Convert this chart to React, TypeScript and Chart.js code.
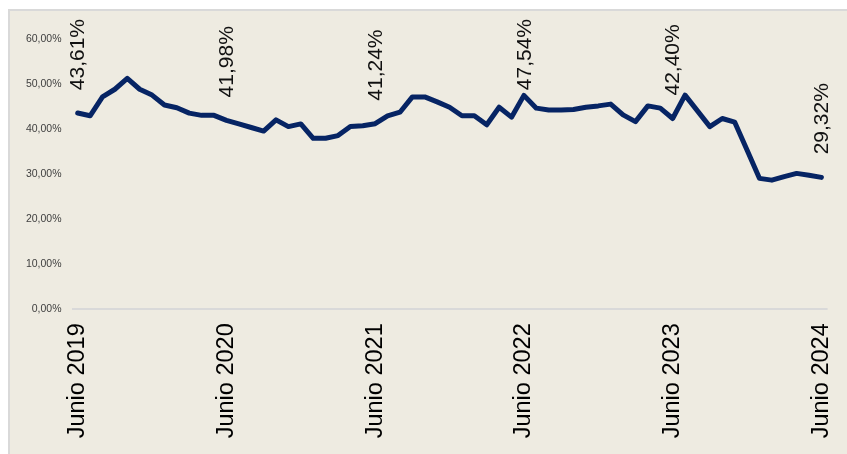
import React, { useEffect, useRef } from "react";
import { Chart, registerables } from "chart.js";

Chart.register(...registerables);

const monthNames = [
  "Enero", "Febrero", "Marzo", "Abril", "Mayo", "Junio",
  "Julio", "Agosto", "Septiembre", "Octubre", "Noviembre", "Diciembre",
];

// Monthly categories, June 2019 to June 2024
const categories: string[] = [];
for (let y = 2019; y <= 2024; y++) {
  for (let m = 0; m < 12; m++) {
    if ((y === 2019 && m < 5) || (y === 2024 && m > 5)) continue;
    categories.push(`${monthNames[m]} ${y}`);
  }
}

const values2019 = [43.61, 43.0, 47.2, 48.9, 51.3, 48.9, 47.6];
const values2020 = [45.4, 44.8, 43.6, 43.1, 43.1, 41.98, 41.2, 40.4, 39.6, 42.1, 40.6, 41.2];
const values2021 = [38.0, 38.0, 38.6, 40.6, 40.8, 41.24, 43.0, 43.8, 47.2, 47.2, 46.1, 44.9];
const values2022 = [43.0, 43.0, 41.0, 44.9, 42.7, 47.54, 44.7, 44.3, 44.3, 44.4, 44.9, 45.2];
const values2023 = [45.6, 43.2, 41.7, 45.2, 44.7, 42.4, 47.6, 44.1, 40.6, 42.4, 41.6, 35.4];
const values2024 = [29.1, 28.7, 29.5, 30.2, 29.8, 29.32];

const values = [
  ...values2019, ...values2020, ...values2021,
  ...values2022, ...values2023, ...values2024,
];

const labeledIndices = [0, 12, 24, 36, 48, 60];

const yMin = 0;
const yMax = 60;
const yStep = 10;

const FONT = '"Liberation Sans", Arial, sans-serif';

const fmtPct = (v: number) => v.toFixed(2).replace(".", ",") + "%";

const dataLabelPlugin = {
  id: "rotatedDataLabels",
  afterDatasetsDraw(chart: any) {
    const meta = chart.getDatasetMeta(0);
    const ctx = chart.ctx;
    ctx.save();
    ctx.font = `21px ${FONT}`;
    ctx.fillStyle = "#111111";
    ctx.textAlign = "left";
    ctx.textBaseline = "middle";
    labeledIndices.forEach((i) => {
      const el = meta.data[i];
      if (!el) return;
      const text = fmtPct(values[i]);
      const w = ctx.measureText(text).width;
      let bottom = el.y - 23;
      if (bottom - w < 8) bottom = 8 + w;
      ctx.save();
      ctx.translate(el.x + 1, bottom);
      ctx.rotate(-Math.PI / 2);
      ctx.fillText(text, 0, 0);
      ctx.restore();
    });
    ctx.restore();
  },
};

export default function App() {
  const canvasRef = useRef<HTMLCanvasElement | null>(null);

  useEffect(() => {
    if (!canvasRef.current) return;
    const chart = new Chart(canvasRef.current, {
      type: "line",
      data: {
        labels: categories,
        datasets: [
          {
            data: values,
            borderColor: "#062464",
            borderWidth: 5,
            pointRadius: 0,
            pointHoverRadius: 0,
            tension: 0,
            fill: false,
            borderCapStyle: "round",
            borderJoinStyle: "round",
          },
        ],
      },
      options: {
        responsive: false,
        animation: false,
        devicePixelRatio: 1,
        layout: { padding: { left: 0, right: 19.4, top: 28.3, bottom: 0 } },
        plugins: {
          legend: { display: false },
          tooltip: { enabled: false },
        },
        scales: {
          x: {
            type: "category",
            offset: true,
            grid: { display: false, drawTicks: false },
            border: { display: false },
            afterFit: (scale: any) => {
              scale.height = 144.7;
              scale.paddingLeft = 0;
              scale.paddingRight = 0;
            },
            ticks: {
              autoSkip: false,
              minRotation: 90,
              maxRotation: 90,
              padding: 14,
              color: "#000000",
              font: { family: FONT, size: 23.5 },
              callback: (_v: any, idx: number) =>
                idx % 12 === 0 ? categories[idx] : "",
            },
          },
          y: {
            min: yMin,
            max: yMax,
            afterFit: (scale: any) => {
              scale.width = 61.5;
            },
            grid: {
              drawTicks: false,
              lineWidth: 2,
              color: (c: any) =>
                c.tick && c.tick.value === 0 ? "#D9D9D9" : "rgba(0,0,0,0)",
            },
            border: { display: false },
            ticks: {
              stepSize: yStep,
              padding: 10,
              color: "#404040",
              font: { family: FONT, size: 10.5 },
              callback: (v: any) => fmtPct(Number(v)),
            },
          },
        },
      },
      plugins: [dataLabelPlugin],
    });
    return () => chart.destroy();
  }, []);

  return (
    <div
      style={{
        position: "absolute",
        left: 8,
        top: 9,
        width: 839,
        height: 445,
        boxSizing: "border-box",
        background: "#EEEBE1",
        borderLeft: "2px solid #D9D9D9",
        borderTop: "2px solid #D9D9D9",
        overflow: "hidden",
      }}
    >
      <canvas
        ref={canvasRef}
        width={837}
        height={443}
        style={{ position: "absolute", left: 0, top: 0, width: 837, height: 443 }}
      />
    </div>
  );
}
